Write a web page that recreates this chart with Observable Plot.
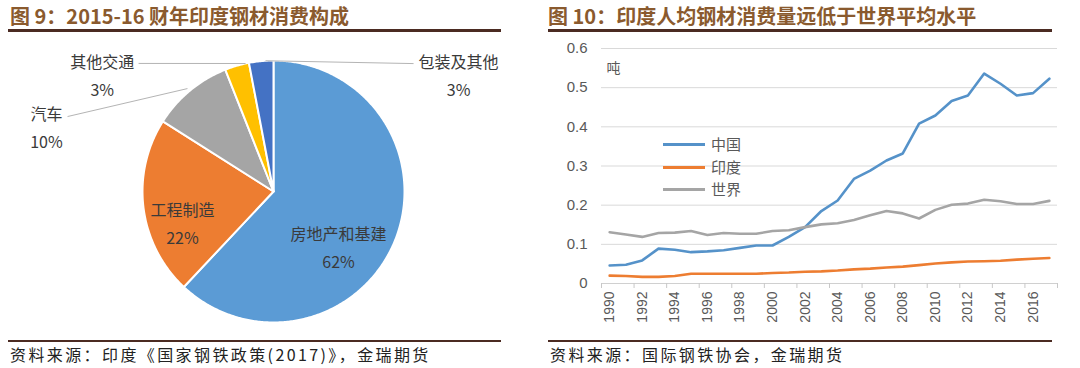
<!DOCTYPE html>
<html><head><meta charset="utf-8">
<script src="https://cdn.jsdelivr.net/npm/d3@7"></script>
<script src="https://cdn.jsdelivr.net/npm/@observablehq/plot@0.6"></script>
<style>
html,body{margin:0;padding:0;background:#fff;width:1080px;height:368px;overflow:hidden;font-family:"Noto Sans CJK SC","Liberation Sans",sans-serif;}
.title{position:absolute;top:3px;font-size:20px;font-weight:700;color:#8a5a2e;white-space:nowrap;line-height:26px}
.rule{position:absolute;height:3px;background:#4b2b22}
.src{position:absolute;top:344px;font-size:16px;color:#222;letter-spacing:2.4px;white-space:nowrap;line-height:20px}
#pie,#line{position:absolute;top:36px}
#pie{left:0}
#line{left:540px}
.lg{position:absolute;left:663px;font-size:15px;color:#595959;line-height:20px;white-space:nowrap}
.sw{display:inline-block;width:42px;height:3px;vertical-align:middle;margin-right:6px;position:relative;top:-1px}
</style></head><body>
<div class="title" style="left:10px">图 9：2015-16 财年印度钢材消费构成</div>
<div class="rule" style="left:8px;width:493px;top:29px"></div>
<div class="title" style="left:548px">图 10：印度人均钢材消费量远低于世界平均水平</div>
<div class="rule" style="left:548px;width:504px;top:29px"></div>
<div id="pie"></div>
<div id="line"></div>
<div id="legend"></div>
<div class="rule" style="left:8px;width:493px;top:340px;height:2px"></div>
<div class="rule" style="left:548px;width:504px;top:340px;height:2px"></div>
<div class="src" style="left:10px">资料来源：印度《国家钢铁政策(2017)》，金瑞期货</div>
<div class="src" style="left:550px">资料来源：国际钢铁协会，金瑞期货</div>
<script>
// ---------- Pie data ----------
const pieCategories = ["房地产和基建","工程制造","汽车","其他交通","包装及其他"];
const pieShares = [62, 22, 10, 3, 3];
const pieColors = ["#5B9BD5","#ED7D31","#A5A5A5","#FFC000","#4472C4"];

// ---------- Line data ----------
const years = [1990,1991,1992,1993,1994,1995,1996,1997,1998,1999,2000,2001,2002,2003,2004,2005,2006,2007,2008,2009,2010,2011,2012,2013,2014,2015,2016,2017];
const seriesNames = ["中国","印度","世界"];
const chinaValues = [0.046,0.048,0.059,0.089,0.086,0.080,0.082,0.085,0.091,0.097,0.097,0.119,0.144,0.185,0.212,0.267,0.288,0.314,0.332,0.408,0.429,0.466,0.480,0.536,0.510,0.480,0.486,0.523];
const indiaValues = [0.020,0.019,0.017,0.017,0.019,0.025,0.025,0.025,0.025,0.025,0.027,0.028,0.030,0.031,0.033,0.036,0.038,0.041,0.043,0.047,0.051,0.054,0.056,0.057,0.058,0.061,0.063,0.065];
const worldValues = [0.131,0.125,0.119,0.129,0.130,0.134,0.124,0.129,0.127,0.127,0.134,0.136,0.144,0.151,0.154,0.162,0.174,0.185,0.179,0.166,0.188,0.201,0.204,0.214,0.210,0.203,0.203,0.211];
const seriesColors = ["#5592c9","#ED7D31","#A5A5A5"];
const yTicks = [0,0.1,0.2,0.3,0.4,0.5,0.6];
const xLabelYears = [1990,1992,1994,1996,1998,2000,2002,2004,2006,2008,2010,2012,2014,2016];
const unitLabel = "吨";

// ---------- Pie ----------
const R = 131, CX = 273, CY = 191, W = 540, H = 300, TOP = 36;
const arcs = d3.pie().sort(null).value(d => d)(pieShares);
const piePts = [];
arcs.forEach((a, i) => {
  const cat = pieCategories[i];
  piePts.push({cat, x: 0, y: 0});
  const n = Math.max(4, Math.ceil((a.endAngle - a.startAngle) / 0.01));
  for (let k = 0; k <= n; k++) {
    const t = a.startAngle + (a.endAngle - a.startAngle) * k / n;
    piePts.push({cat, x: Math.sin(t), y: Math.cos(t)});
  }
  piePts.push({cat, x: 0, y: 0});
});
// label layout (polar: degrees clockwise from top, radius in pie radii)
const labelLayout = [
  {deg: 129.7, r: 0.645},
  {deg: 252.3, r: 0.73},
  {deg: 286.2, r: 1.805},
  {deg: 304.7, r: 1.59},
  {deg: 57.4, r: 1.677}
];
const pol = (deg, r) => ({x: r * Math.sin(deg * Math.PI / 180), y: r * Math.cos(deg * Math.PI / 180)});
const pieLabels = pieCategories.map((c, i) => {
  const p = pol(labelLayout[i].deg, labelLayout[i].r);
  return {text: c + "\n" + pieShares[i] + "%", x: p.x, y: p.y};
});
// leader lines (from label side to slice edge), polar layout
const leaderLayout = [
  {cat: "汽车", from: [290.0, 1.673], to: [320.1, 1.024]},
  {cat: "其他交通", from: [313.5, 1.42], to: [347.7, 1.0]},
  {cat: "包装及其他", from: [47.6, 1.448], to: [356.5, 1.0]}
];
const leaders = leaderLayout.map(l => {
  const a = pol(...l.from), b = pol(...l.to);
  return {x1: a.x, y1: a.y, x2: b.x, y2: b.y};
});

const pie = Plot.plot({
  width: W, height: H, margin: 0,
  x: {domain: [-CX / R, (W - CX) / R], axis: null},
  y: {domain: [(CY - (TOP + H)) / R, (CY - TOP) / R], axis: null},
  color: {domain: pieCategories, range: pieColors},
  style: {fontFamily: '"Noto Sans CJK SC", sans-serif', background: "transparent"},
  marks: [
    Plot.line(piePts, {x: "x", y: "y", z: "cat", fill: "cat", stroke: "white", strokeWidth: 2, strokeLinejoin: "round", curve: "linear"}),
    Plot.link(leaders, {x1: "x1", y1: "y1", x2: "x2", y2: "y2", stroke: "#b4b4b4", strokeWidth: 1}),
    Plot.text(pieLabels, {x: "x", y: "y", text: "text", fontSize: 16, lineHeight: 1.75, fill: "#3a3a3a", textAnchor: "middle", lineAnchor: "middle"})
  ]
});
document.getElementById("pie").appendChild(pie);

// ---------- Line chart ----------
const seriesValues = [chinaValues, indiaValues, worldValues];
const lineData = [];
seriesNames.forEach((s, i) => years.forEach((y, j) => lineData.push({series: s, year: y, value: seriesValues[i][j]})));
const halfTicks = d3.range(years[0] - 0.5, years[years.length - 1] + 1, 2);

const line = Plot.plot({
  width: 540, height: 294,
  marginLeft: 61, marginRight: 23, marginTop: 12, marginBottom: 47,
  x: {domain: [years[0] - 0.5, years[years.length - 1] + 0.5], label: null},
  y: {domain: [0, 0.6], label: null},
  color: {domain: seriesNames, range: seriesColors},
  style: {fontFamily: '"Liberation Sans", "Noto Sans CJK SC", sans-serif', color: "#595959", background: "transparent"},
  marks: [
    Plot.ruleY(yTicks.slice(1), {stroke: "#d9d9d9", strokeWidth: 1}),
    Plot.ruleY([0], {stroke: "#d0d0d0", strokeWidth: 1}),
    Plot.axisY({ticks: yTicks, tickSize: 0, tickPadding: 14, fontSize: 15, tickFormat: d => d === 0 ? "0" : d.toFixed(1)}),
    Plot.axisX({ticks: halfTicks, tickSize: 5, stroke: "#c8c8c8", tickFormat: () => ""}),
    Plot.axisX({ticks: xLabelYears, tickSize: 0, tickPadding: 8, tickRotate: -90, fontSize: 14, tickFormat: d => String(d)}),
    Plot.line(lineData, {x: "year", y: "value", z: "series", stroke: "series", strokeWidth: 2.6, strokeLinejoin: "round"}),
    Plot.text([unitLabel], {frameAnchor: "top-left", dx: 5, dy: 15, fontSize: 14, fontFamily: '"Noto Sans CJK SC", sans-serif', textAnchor: "start"})
  ]
});
document.getElementById("line").appendChild(line);

// ---------- Legend ----------
const legend = document.getElementById("legend");
const legendTops = [134, 156.5, 179];
seriesNames.forEach((s, i) => {
  const d = document.createElement("div");
  d.className = "lg";
  d.style.top = legendTops[i] + "px";
  const sw = document.createElement("span");
  sw.className = "sw";
  sw.style.background = seriesColors[i];
  d.appendChild(sw);
  d.appendChild(document.createTextNode(s));
  legend.appendChild(d);
});
</script>
</body></html>
